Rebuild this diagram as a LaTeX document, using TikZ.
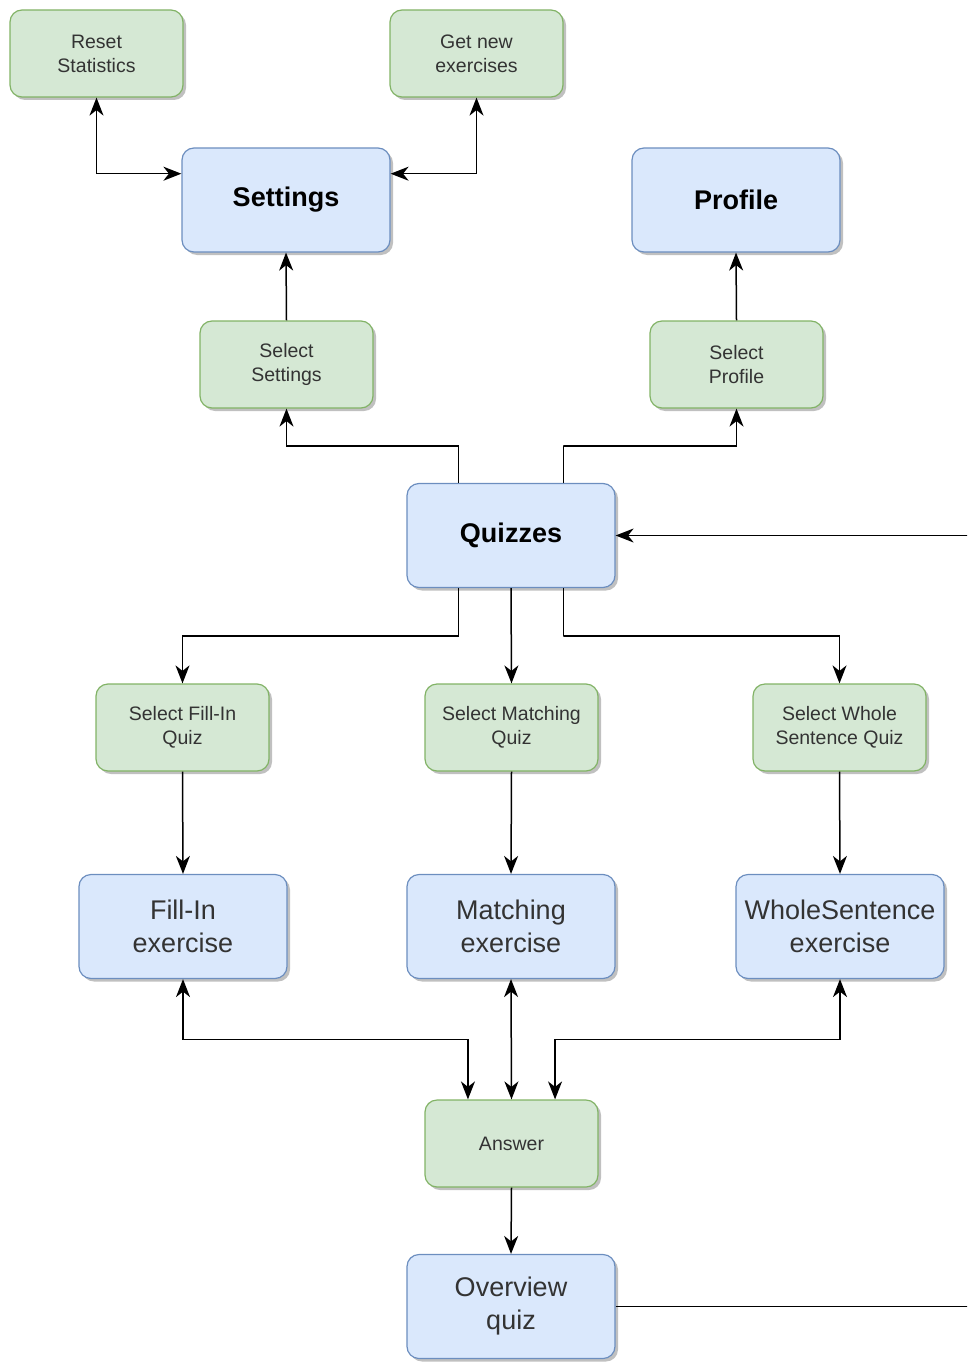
\documentclass[tikz,border=0pt]{standalone}
\usepackage{fontspec}
\setmainfont{Liberation Sans}
\usetikzlibrary{arrows.meta,shadows,calc}

\definecolor{gfill}{HTML}{D5E8D4}
\definecolor{gline}{HTML}{82B366}
\definecolor{bfill}{HTML}{DAE8FC}
\definecolor{bline}{HTML}{6C8EBF}
\definecolor{txt}{HTML}{333333}

\tikzset{
  >={Stealth[length=18pt,width=14pt,inset=5.5pt]},
  box/.style={draw, rounded corners=12pt, line width=1.2pt, align=center,
    inner sep=0pt,
    drop shadow={shadow xshift=3pt, shadow yshift=-3pt, fill=black!45, opacity=0.55}},
  action/.style={box, fill=gfill, draw=gline, minimum width=173pt, minimum height=87pt,
    text=txt, font=\fontsize{19.5}{24}\selectfont},
  screen/.style={box, fill=bfill, draw=bline, minimum width=208pt, minimum height=104pt,
    text=txt, font=\fontsize{27}{33}\selectfont},
  mainscreen/.style={screen, text=black, font=\fontsize{27}{32}\selectfont\bfseries},
  link/.style={line width=1.5pt, ->},
  twoway/.style={line width=1.5pt, <->}
}

\begin{document}
\begin{tikzpicture}[x=1pt,y=-1pt]
\useasboundingbox (0,0) rectangle (967,1362);
\clip (0,0) rectangle (967,1362);

% top row: settings actions
\node[action] (reset) at (96.5,53.5) {Reset\\Statistics};
\node[action] (getnew) at (476.5,53.5) {Get new\\exercises};

% settings and profile screens
\node[mainscreen] (settings) at (286,200) {Settings};
\node[mainscreen] (profile) at (736,200) {Profile};

\node[action] (selsettings) at (286.5,364.5) {Select\\Settings};
\node[action] (selprofile) at (736.5,364.5) {Select\\Profile};

% hub
\node[mainscreen] (quizzes) at (511,535.5) {Quizzes};

% quiz selection
\node[action] (selfill) at (182.5,727.5) {Select Fill-In\\Quiz};
\node[action] (selmatch) at (511.5,727.5) {Select Matching\\Quiz};
\node[action] (selwhole) at (839.5,727.5) {Select Whole\\Sentence Quiz};

% exercises
\node[screen] (fill) at (183,926.5) {Fill-In\\exercise};
\node[screen] (match) at (511,926.5) {Matching\\exercise};
\node[screen] (whole) at (840,926.5) {WholeSentence\\exercise};

\node[action] (answer) at (511.5,1143.5) {Answer};
\node[screen] (overview) at (511,1306.5) {Overview\\quiz};

% settings connections
\coordinate (setL) at ($(settings.north west)!0.25!(settings.south west)$);
\coordinate (setR) at ($(settings.north east)!0.25!(settings.south east)$);
\draw[twoway] (reset.south) |- (setL);
\draw[twoway] (getnew.south) |- (setR);
\draw[link] (selsettings.north) -- (settings.south);
\draw[link] (selprofile.north) -- (profile.south);

% from quizzes upward
\coordinate (qtl) at ($(quizzes.north west)!0.25!(quizzes.north east)$);
\coordinate (qtr) at ($(quizzes.north west)!0.75!(quizzes.north east)$);
\draw[link] (qtl) |- ($(qtl)!0.5!(qtl |- selsettings.south)$) -| (selsettings.south);
\draw[link] (qtr) |- ($(qtr)!0.5!(qtr |- selprofile.south)$) -| (selprofile.south);

% from quizzes downward
\coordinate (qbl) at ($(quizzes.south west)!0.25!(quizzes.south east)$);
\coordinate (qbr) at ($(quizzes.south west)!0.75!(quizzes.south east)$);
\draw[link] (qbl) |- ($(qbl)!0.5!(qbl |- selfill.north)$) -| (selfill.north);
\draw[link] (quizzes.south) -- (selmatch.north);
\draw[link] (qbr) |- ($(qbr)!0.5!(qbr |- selwhole.north)$) -| (selwhole.north);

% selections to exercises
\draw[link] (selfill.south) -- (fill.north);
\draw[link] (selmatch.south) -- (match.north);
\draw[link] (selwhole.south) -- (whole.north);

% exercises and answer
\coordinate (atl) at ($(answer.north west)!0.25!(answer.north east)$);
\coordinate (atr) at ($(answer.north west)!0.75!(answer.north east)$);
\draw[twoway] (fill.south) |- ($(fill.south)!0.5!(fill.south |- answer.north)$) -| (atl);
\draw[twoway] (match.south) -- (answer.north);
\draw[twoway] (whole.south) |- ($(whole.south)!0.5!(whole.south |- answer.north)$) -| (atr);

\draw[link] (answer.south) -- (overview.north);

% back to quizzes, routed past the right edge
\draw[link] (overview.east) -- ++(420,0) |- (quizzes.east);
\end{tikzpicture}
\end{document}
